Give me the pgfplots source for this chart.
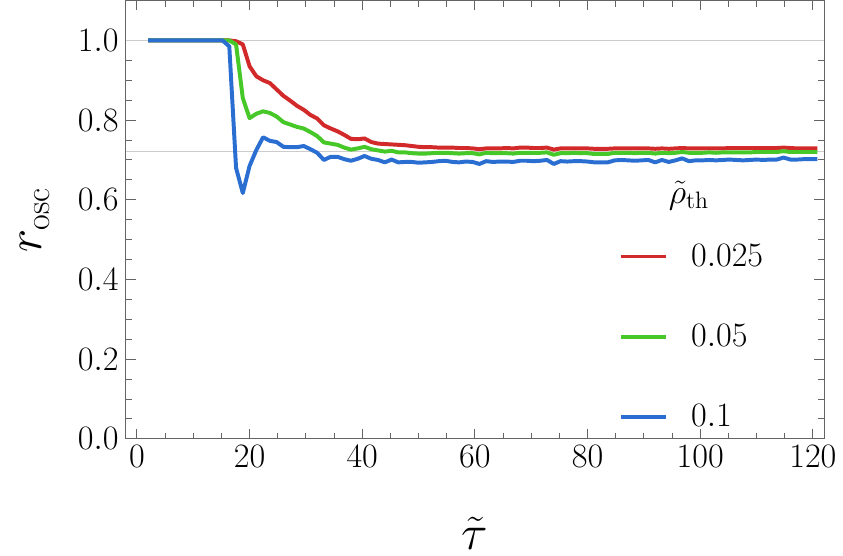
\documentclass[border=0pt]{standalone}
\usepackage{pgfplots}
\usepackage{pgfplotstable}
\pgfplotsset{compat=1.18}
\definecolor{cred}{RGB}{210,42,42}
\definecolor{cgreen}{RGB}{70,200,40}
\definecolor{cblue}{RGB}{42,110,210}
\definecolor{framegray}{RGB}{100,100,100}
\pgfplotstableread{
x b g r
2 1 1 1
3.2 1 1 1
4.4 1 1 1
5.6 1 1 1
6.8 1 1 1
8 1 1 1
9.2 1 1 1
10.4 1 1 1
11.6 1 1 1
12.8 1 1 1
14 1 1 1
15.2 1 1 1
16.4 0.985 1 1
17.6 0.68 0.99 0.998
18.8 0.617 0.855 0.99
20 0.685 0.805 0.935
21.2 0.725 0.816 0.91
22.4 0.757 0.822 0.90
23.6 0.748 0.818 0.893
24.8 0.745 0.809 0.877
26 0.733 0.795 0.861
27.2 0.732 0.789 0.849
28.4 0.732 0.783 0.836
29.6 0.735 0.779 0.826
30.8 0.727 0.770 0.813
32 0.718 0.760 0.804
33.2 0.700 0.744 0.787
34.4 0.708 0.741 0.779
35.6 0.708 0.738 0.772
36.8 0.702 0.731 0.763
38 0.698 0.726 0.753
39.2 0.703 0.729 0.752
40.4 0.710 0.733 0.754
41.6 0.703 0.727 0.745
42.8 0.700 0.724 0.741
44 0.694 0.721 0.740
45.2 0.701 0.723 0.739
46.4 0.694 0.719 0.738
47.6 0.695 0.719 0.737
48.8 0.695 0.717 0.735
50 0.693 0.716 0.733
51.2 0.694 0.716 0.732
52.4 0.695 0.717 0.732
53.6 0.697 0.718 0.731
54.8 0.698 0.718 0.731
56 0.695 0.717 0.731
57.2 0.694 0.716 0.730
58.4 0.696 0.717 0.730
59.6 0.695 0.717 0.729
60.8 0.690 0.714 0.727
62 0.697 0.718 0.729
63.2 0.695 0.717 0.729
64.4 0.696 0.717 0.729
65.6 0.696 0.717 0.730
66.8 0.695 0.716 0.729
68 0.698 0.718 0.731
69.2 0.698 0.718 0.731
70.4 0.697 0.718 0.730
71.6 0.698 0.718 0.730
72.8 0.700 0.719 0.731
74 0.690 0.713 0.726
75.2 0.697 0.717 0.729
76.4 0.696 0.717 0.729
77.6 0.697 0.718 0.729
78.8 0.697 0.717 0.729
80 0.696 0.717 0.729
81.2 0.694 0.715 0.728
82.4 0.694 0.715 0.728
83.6 0.694 0.715 0.728
84.8 0.699 0.718 0.729
86 0.700 0.718 0.729
87.2 0.699 0.718 0.729
88.4 0.698 0.717 0.729
89.6 0.699 0.718 0.729
90.8 0.700 0.718 0.729
92 0.694 0.716 0.728
93.2 0.700 0.718 0.729
94.4 0.695 0.717 0.728
95.6 0.699 0.718 0.729
96.8 0.704 0.720 0.730
98 0.697 0.718 0.729
99.2 0.699 0.718 0.729
100.4 0.699 0.718 0.729
101.6 0.700 0.719 0.729
102.8 0.699 0.718 0.729
104 0.700 0.719 0.729
105.2 0.701 0.719 0.730
106.4 0.700 0.719 0.730
107.6 0.699 0.719 0.730
108.8 0.700 0.719 0.730
110 0.701 0.720 0.730
111.2 0.700 0.720 0.730
112.4 0.701 0.720 0.730
113.6 0.701 0.720 0.730
114.8 0.706 0.722 0.731
116 0.701 0.720 0.730
117.2 0.701 0.720 0.729
118.4 0.702 0.720 0.729
119.6 0.702 0.720 0.729
120.8 0.702 0.720 0.729
}\datatable
\begin{document}
\begin{tikzpicture}
\begin{axis}[
  scale only axis,
  width=353pt, height=221.5pt,
  xmin=-2, xmax=122, ymin=0, ymax=1.1,
  xtick={0,20,...,120}, ytick={0,0.2,...,1.0},
  minor x tick num=3, minor y tick num=3,
  tick align=inside,
  major tick length=5pt, minor tick length=3pt,
  axis line style={framegray, line width=0.6pt},
  every tick/.style={framegray, line width=0.5pt},
  yticklabel style={/pgf/number format/fixed, /pgf/number format/fixed zerofill, /pgf/number format/precision=1},
  ticklabel style={font=\fontsize{18}{20}\selectfont},
  extra y ticks={0.72,1.0},
  extra y tick labels={},
  extra y tick style={grid=major, major grid style={lightgray!80, line width=0.5pt}, major tick length=0pt},
  xlabel={$\tilde{\tau}$},
  ylabel={$r_{\mathrm{osc}}$},
  label style={font=\fontsize{25}{28}\selectfont},
  xlabel style={at={(axis description cs:0.5,-0.215)}, anchor=center},
  ylabel style={at={(axis description cs:-0.13,0.5)}, anchor=center},
  legend style={draw=none, fill=none, at={(axis cs:85.5,0.50)}, anchor=north west,
    font=\fontsize{18}{20}\selectfont, row sep=24pt, inner sep=0pt,
    /tikz/every odd column/.append style={column sep=9.5pt}},
  legend cell align=left,
  legend image code/.code={\draw[#1] (0pt,0pt) -- (23pt,0pt);},
]
\addplot[cred, line width=2pt, line join=round] table[x=x, y=r] {\datatable};
\addlegendentry{$0.025$}
\addplot[cgreen, line width=2pt, line join=round] table[x=x, y=g] {\datatable};
\addlegendentry{$0.05$}
\addplot[cblue, line width=2pt, line join=round] table[x=x, y=b] {\datatable};
\addlegendentry{$0.1$}
\node[font=\fontsize{17}{20}\selectfont, anchor=center] at (axis cs:98,0.61) {$\tilde{\rho}_{\mathrm{th}}$};
\end{axis}
\path ([shift={(-63.5pt,-58.5pt)}]current axis.south west) rectangle ([shift={(6pt,0pt)}]current axis.north east);
\end{tikzpicture}
\end{document}
